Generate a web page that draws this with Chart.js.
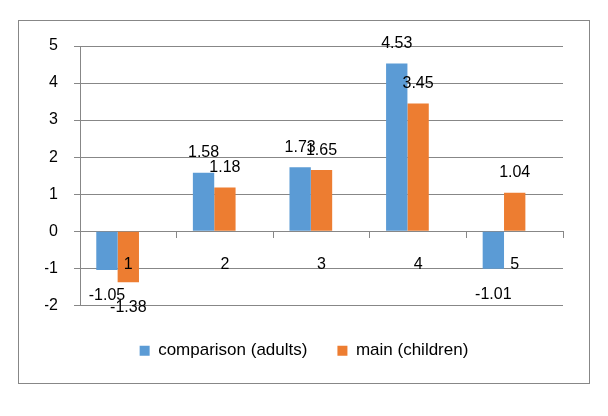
<!DOCTYPE html>
<html>
<head>
<meta charset="utf-8">
<script src="https://cdn.jsdelivr.net/npm/chart.js@4.4.1/dist/chart.umd.min.js"></script>
<style>
  html, body { margin: 0; padding: 0; background: #fff; }
</style>
</head>
<body>
<canvas id="myChart" width="608" height="416"></canvas>
<script>
const categories = ['1', '2', '3', '4', '5'];
const adults = [-1.05, 1.58, 1.73, 4.53, -1.01];
const children = [-1.38, 1.18, 1.65, 3.45, 1.04];
const yMin = -2;
const yMax = 5;
const yStep = 1;

const fontFamily = '"Liberation Sans", Arial, sans-serif';
const gray = '#878787';

// outer frame round the whole chart, like the Excel chart border
const frame = {
  id: 'frame',
  beforeDraw(chart) {
    const ctx = chart.ctx;
    ctx.save();
    ctx.strokeStyle = gray;
    ctx.lineWidth = 1;
    ctx.strokeRect(18.5, 20.5, 571, 363);
    ctx.restore();
  }
};

// value labels above (or below) each bar
const valueLabels = {
  id: 'valueLabels',
  afterDatasetsDraw(chart) {
    const ctx = chart.ctx;
    ctx.save();
    ctx.font = '16px ' + fontFamily;
    ctx.fillStyle = '#000';
    ctx.textAlign = 'center';
    ctx.textBaseline = 'alphabetic';
    chart.data.datasets.forEach((ds, i) => {
      if (!ds.label) return;
      chart.getDatasetMeta(i).data.forEach((bar, j) => {
        const v = ds.data[j];
        const y = v >= 0 ? bar.y - 15.5 : bar.y + 30;
        ctx.fillText(v.toFixed(2), bar.x, y);
      });
    });
    ctx.restore();
  }
};

const ctx = document.getElementById('myChart').getContext('2d');
const myChart = new Chart(ctx, {
  type: 'bar',
  data: {
    labels: categories,
    datasets: [{
      label: 'comparison (adults)',
      backgroundColor: '#5B9BD5',
      data: adults
    }, {
      label: 'main (children)',
      backgroundColor: '#ED7D31',
      data: children
    }, {
      // empty third series, keeps the gap Excel leaves for it
      label: '',
      backgroundColor: 'rgba(0,0,0,0)',
      data: [null, null, null, null, null]
    }]
  },
  options: {
    responsive: false,
    animation: false,
    layout: { padding: { left: 45, right: 45, top: 46, bottom: 46.7 } },
    datasets: {
      bar: { categoryPercentage: 0.663, barPercentage: 1 }
    },
    plugins: {
      legend: {
        position: 'bottom',
        // empty title only used as a spacer above the legend row
        title: {
          display: true,
          text: '',
          font: { size: 1, lineHeight: 1 },
          padding: { top: 0, bottom: 6 }
        },
        labels: {
          font: { family: fontFamily, size: 17 },
          color: '#000',
          boxWidth: 10,
          boxHeight: 10,
          padding: 30,
          filter: item => item.text !== ''
        }
      },
      tooltip: { enabled: false }
    },
    scales: {
      x: {
        position: { y: 0 },
        grid: {
          drawOnChartArea: false,
          drawTicks: true,
          tickLength: 6,
          color: gray
        },
        border: { color: gray },
        ticks: {
          z: 1,
          font: { family: fontFamily, size: 16 },
          color: '#000',
          padding: 18
        }
      },
      y: {
        min: yMin,
        max: yMax,
        afterFit: scale => { scale.width = 35; },
        grid: { color: gray, tickLength: 6 },
        border: { color: gray },
        ticks: {
          stepSize: yStep,
          font: { family: fontFamily, size: 16 },
          color: '#000',
          padding: 16
        }
      }
    }
  },
  plugins: [frame, valueLabels]
});
</script>
</body>
</html>
